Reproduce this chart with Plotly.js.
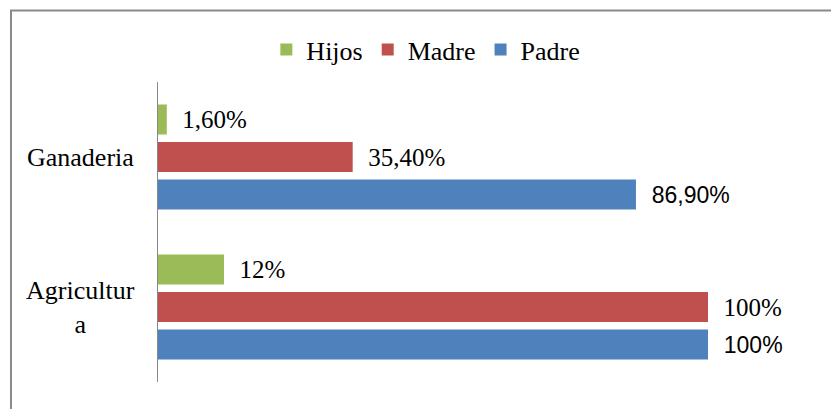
<!DOCTYPE html>
<html>
<head>
<meta charset="utf-8">
<script src="https://cdn.plot.ly/plotly-3.0.1.min.js"></script>
<style>html,body{margin:0;padding:0;background:#fff;}#chart{width:831px;height:409px;}</style>
</head>
<body>
<div id="chart"></div>
<script>
// Data
var categories = ['Agricultura', 'Ganaderia'];
var categoryLabels = ['Agricultur<br>a', 'Ganaderia'];
var seriesNames = ['Padre', 'Madre', 'Hijos'];
var padre = [100, 86.9];
var madre = [100, 35.4];
var hijos = [12, 1.6];

function fmt(v) {
  var s = (Math.round(v) === v) ? String(v) : v.toFixed(2).replace('.', ',');
  return '\u00a0\u00a0' + s + '%';
}

var serif = 'Liberation Serif';
var sans = 'Liberation Sans';

function mk(name, vals, color, font) {
  return {
    type: 'bar', orientation: 'h', name: name,
    y: categories, x: vals,
    marker: {color: color, line: {width: 0}},
    text: vals.map(fmt), textposition: 'outside',
    textfont: font, constraintext: 'none', cliponaxis: false,
    hoverinfo: 'none'
  };
}

var data = [
  mk(seriesNames[0], padre, '#4F81BD', {family: sans, size: 23, color: '#000'}),
  mk(seriesNames[1], madre, '#C0504D', {family: serif, size: 25, color: '#000'}),
  mk(seriesNames[2], hijos, '#9BBB59', {family: serif, size: 25, color: '#000'})
];

var annotations = categories.map(function (c, i) {
  return {
    xref: 'paper', yref: 'y', x: -0.14, y: c,
    xanchor: 'center', yanchor: 'middle', align: 'center',
    text: categoryLabels[i], showarrow: false,
    font: {family: serif, size: 26, color: '#000'}
  };
});

var layout = {
  width: 831, height: 409, autosize: false,
  margin: {l: 158, r: 123, t: 82, b: 27, pad: 0},
  paper_bgcolor: '#fff', plot_bgcolor: '#fff',
  font: {family: serif, color: '#000'},
  barmode: 'group', bargap: 0.25, bargroupgap: 0.2,
  showlegend: true,
  legend: {
    orientation: 'h', traceorder: 'reversed',
    x: 0.487, xanchor: 'center', y: 1.108, yanchor: 'middle',
    font: {family: serif, size: 26, color: '#000'},
    bgcolor: 'rgba(0,0,0,0)'
  },
  xaxis: {range: [0, 100], visible: false, fixedrange: true},
  yaxis: {
    type: 'category', showticklabels: false, ticks: '',
    showgrid: false, zeroline: false,
    showline: true, linecolor: '#888888', linewidth: 1.3,
    range: [-0.5, 1.5], fixedrange: true
  },
  annotations: annotations,
  shapes: [{
    type: 'rect', xref: 'paper', yref: 'paper',
    x0: (11 - 158) / 550, x1: (860 - 158) / 550,
    y0: (382 - 430) / 300, y1: (382 - 10.5) / 300,
    line: {color: '#8a8a8a', width: 2}, fillcolor: 'rgba(0,0,0,0)',
    layer: 'above'
  }]
};

Plotly.newPlot('chart', data, layout, {displayModeBar: false, staticPlot: true});
</script>
</body>
</html>
